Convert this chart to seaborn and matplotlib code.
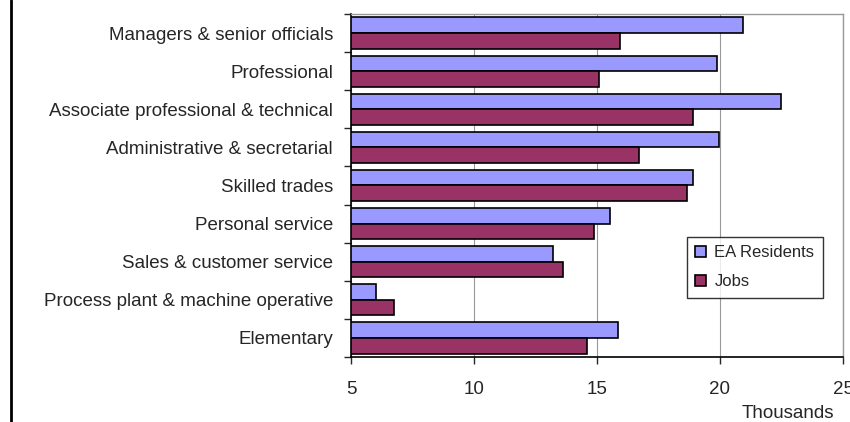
import pandas as pd
import matplotlib.pyplot as plt
import matplotlib.lines as mlines
import seaborn as sns
import numpy as np

# Occupation groups and values (thousands)
occupations = ["Managers & senior officials", "Professional",
               "Associate professional & technical", "Administrative & secretarial",
               "Skilled trades", "Personal service", "Sales & customer service",
               "Process plant & machine operative", "Elementary"]
ea_residents = [20.92, 19.89, 22.47, 19.96, 18.92, 15.53, 13.2, 6.02, 15.87]
jobs = [15.93, 15.09, 18.92, 16.72, 18.65, 14.89, 13.6, 6.75, 14.58]
x_ticks = [5, 10, 15, 20, 25]

df = pd.DataFrame({
    "Occupation": occupations * 2,
    "Value": ea_residents + jobs,
    "Series": ["EA Residents"] * len(occupations) + ["Jobs"] * len(occupations),
})

sns.set_style("white")
plt.rcParams['font.family'] = ['Liberation Sans', 'DejaVu Sans']

fig = plt.figure(figsize=(8.5, 4.22), dpi=100)
ax = fig.add_axes([351 / 850, 1 - 357 / 422, (843 - 351) / 850, (357 - 14) / 422])

sns.barplot(data=df, y="Occupation", x="Value", hue="Series", orient="h",
            palette={"EA Residents": "#9999FF", "Jobs": "#993366"},
            edgecolor="black", linewidth=1.2, width=0.82, ax=ax, saturation=1)

ax.set_xlim(5, 25)
ax.set_xticks(x_ticks)
ax.xaxis.grid(True, color="#999999", linewidth=0.8)
ax.set_axisbelow(True)
ax.set_xlabel("")
ax.set_ylabel("")

# ticks between categories on the y axis
ax.set_yticks(np.arange(-0.5, len(occupations), 1), minor=True)
ax.tick_params(axis="y", which="major", length=0, labelsize=13.5, pad=13)
ax.tick_params(axis="y", which="minor", left=True, length=5, width=1, direction="out")
ax.tick_params(axis="x", which="major", bottom=True, length=5, width=1,
               direction="out", labelsize=13.5, pad=12)

for side in ["left", "bottom"]:
    ax.spines[side].set_color("black")
    ax.spines[side].set_linewidth(1.2)
for side in ["top", "right"]:
    ax.spines[side].set_color("#999999")
    ax.spines[side].set_linewidth(1.0)

leg = ax.legend(loc="upper left", bbox_to_anchor=((687 - 351) / 492, 1 - (237 - 14) / 343),
                frameon=True, fancybox=False, edgecolor="black", fontsize=12,
                handlelength=0.65, handleheight=0.65, borderpad=0.5, labelspacing=0.85,
                handletextpad=0.5, borderaxespad=0)
leg.get_frame().set_linewidth(1.0)

fig.text(788 / 850, 1 - 414 / 422, "Thousands", ha="center", va="center", fontsize=13.5)

# left border line
fig.add_artist(mlines.Line2D([11 / 850, 11 / 850], [0, 1], color="black", linewidth=2))

fig.savefig("out.png", dpi=100)
